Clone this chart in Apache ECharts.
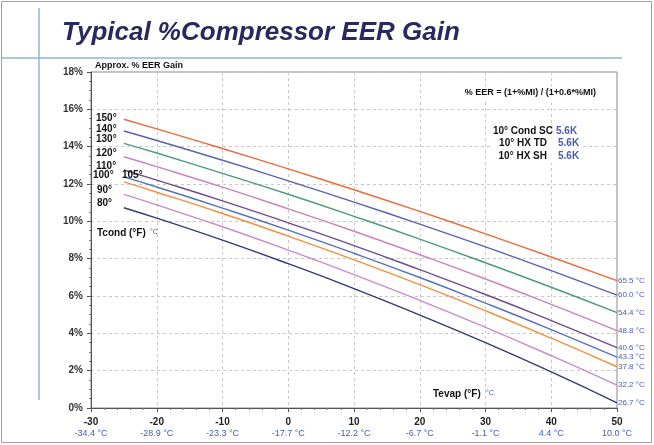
<!DOCTYPE html>
<html>
<head>
<meta charset="utf-8">
<script src="https://cdn.jsdelivr.net/npm/echarts@6/dist/echarts.min.js"></script>
<style>
  html, body { margin: 0; padding: 0; background: #fff; }
  #main { width: 654px; height: 445px; }
</style>
</head>
<body>
<div id="main"></div>
<script>
// evaporating temperature, F
var tevap = [-25, -20, -10, 0, 10, 20, 30, 40, 50];
var xTicksC = ['-34.4 °C', '-28.9 °C', '-23.3 °C', '-17.7 °C', '-12.2 °C', '-6.7 °C', '-1.1 °C', '4.4 °C', '10.0 °C'];

// % EER gain by condensing temperature
var gain150 = [15.47, 14.95, 13.90, 12.81, 11.69, 10.53, 9.33, 8.09, 6.82];
var gain140 = [14.84, 14.33, 13.27, 12.17, 11.03, 9.85, 8.63, 7.36, 6.05];
var gain130 = [14.18, 13.66, 12.57, 11.45, 10.27, 9.05, 7.78, 6.47, 5.11];
var gain120 = [13.46, 12.93, 11.83, 10.67, 9.47, 8.21, 6.91, 5.55, 4.14];
var gain110 = [12.75, 12.21, 11.10, 9.92, 8.70, 7.41, 6.08, 4.68, 3.23];
var gain105 = [12.38, 11.84, 10.71, 9.53, 8.29, 6.99, 5.62, 4.20, 2.72];
var gain100 = [12.11, 11.56, 10.42, 9.21, 7.94, 6.61, 5.21, 3.74, 2.21];
var gain90  = [11.44, 10.88, 9.71, 8.46, 7.15, 5.77, 4.32, 2.80, 1.22];
var gain80  = [10.73, 10.17, 8.99, 7.73, 6.40, 4.98, 3.50, 1.93, 0.28];

var seriesNames = ['150°', '140°', '130°', '120°', '110°', '105°', '100°', '90°', '80°'];
var seriesData = [gain150, gain140, gain130, gain120, gain110, gain105, gain100, gain90, gain80];
var endLabels = ['65.5 °C', '60.0 °C', '54.4 °C', '48.8 °C', '40.6 °C', '43.3 °C', '37.8 °C', '32.2 °C', '26.7 °C'];
var colors = ['#ee6a3c', '#5a62ac', '#4f9a7c', '#c883bc', '#6e4c8e', '#5472bf', '#f1913f', '#c68ccb', '#343a74'];

var blue = '#4a5bb4';

var chart = echarts.init(document.getElementById('main'));

var series = [];
for (var i = 0; i < seriesData.length; i++) {
    var pts = [];
    for (var j = 0; j < tevap.length; j++) {
        pts.push([tevap[j], seriesData[i][j]]);
    }
    series.push({
        name: seriesNames[i],
        type: 'line',
        data: pts,
        smooth: true,
        symbol: 'none',
        lineStyle: { color: colors[i], width: 1.4 },
        endLabel: {
            show: true,
            formatter: endLabels[i],
            color: blue,
            fontSize: 8,
            fontFamily: 'Liberation Sans',
            distance: 1
        },
        z: 3
    });
}

// left side Tcond labels
var leftLabels = [
    ['150°', 96, 118], ['140°', 96, 129], ['130°', 96, 139], ['120°', 96, 153],
    ['110°', 96, 166], ['100°', 93, 175], ['105°', 122, 175], ['90°', 97, 190], ['80°', 97, 203]
];
var txt = function (x, y, s, font, color, align) {
    return {
        type: 'text', x: x, y: y, z: 10,
        style: { text: s, fill: color || '#111', font: font, textAlign: align || 'left', textVerticalAlign: 'middle' }
    };
};
var graphics = [
    { type: 'rect', shape: { x: 1.5, y: 1.5, width: 650, height: 441 }, style: { fill: 'none', stroke: '#a0a0a0', lineWidth: 1 } },
    { type: 'line', shape: { x1: 39, y1: 8, x2: 39, y2: 400 }, style: { stroke: '#8fb6dc', lineWidth: 1.5 } },
    { type: 'line', shape: { x1: 2, y1: 58, x2: 622, y2: 58 }, style: { stroke: '#8fb6dc', lineWidth: 1.5 } },
    txt(62, 33, 'Typical %Compressor EER Gain', 'italic bold 26px Liberation Sans', '#29295f'),
    txt(95, 66, 'Approx. % EER Gain', 'bold 9px Liberation Sans'),
    { type: 'rect', shape: { x: 460, y: 86, width: 138, height: 14 }, style: { fill: '#fff' }, z: 5 },
    { type: 'rect', shape: { x: 490, y: 124, width: 92, height: 39 }, style: { fill: '#fff' }, z: 5 },
    txt(596, 93, '% EER = (1+%MI) / (1+0.6*%MI)', 'bold 9px Liberation Sans', '#111', 'right'),
    txt(553, 131, '10° Cond SC', 'bold 10px Liberation Sans', '#111', 'right'),
    txt(547, 143, '10° HX TD', 'bold 10px Liberation Sans', '#111', 'right'),
    txt(547, 156, '10° HX SH', 'bold 10px Liberation Sans', '#111', 'right'),
    txt(556, 131, '5.6K', 'bold 10px Liberation Sans', blue),
    txt(558, 143, '5.6K', 'bold 10px Liberation Sans', blue),
    txt(558, 156, '5.6K', 'bold 10px Liberation Sans', blue),
    txt(97, 233, 'Tcond (°F)', 'bold 10px Liberation Sans'),
    txt(150, 232, '°C', '7px Liberation Sans', blue),
    txt(433, 394, 'Tevap (°F)', 'bold 10px Liberation Sans'),
    txt(486, 393, '°C', '7px Liberation Sans', blue)
];
for (var k = 0; k < leftLabels.length; k++) {
    graphics.push(txt(leftLabels[k][1], leftLabels[k][2], leftLabels[k][0], 'bold 10px Liberation Sans'));
}

var option = {
    backgroundColor: '#fff',
    animation: false,
    grid: { left: 91, right: 37, top: 72, bottom: 37, show: true, borderColor: '#888', borderWidth: 1 },
    xAxis: {
        type: 'value', min: -30, max: 50, interval: 10,
        axisLine: { onZero: false, lineStyle: { color: '#555' } },
        axisTick: { length: 4, lineStyle: { color: '#555' } },
        minorTick: { show: true, splitNumber: 5, length: 2, lineStyle: { color: '#777' } },
        splitLine: { show: true, lineStyle: { color: '#c8c8c8', type: [3, 3] } },
        axisLabel: {
            margin: 8,
            formatter: function (v) {
                var idx = (v + 30) / 10;
                return '{f|' + v + '}\n{c|' + xTicksC[idx] + '}';
            },
            rich: {
                f: { fontSize: 10, fontWeight: 'bold', color: '#222', fontFamily: 'Liberation Sans', lineHeight: 12 },
                c: { fontSize: 9, color: blue, fontFamily: 'Liberation Sans', lineHeight: 12 }
            }
        }
    },
    yAxis: {
        type: 'value', min: 0, max: 18, interval: 2,
        axisLine: { show: true, onZero: false, lineStyle: { color: '#555' } },
        axisTick: { show: true, length: 4, lineStyle: { color: '#555' } },
        minorTick: { show: true, splitNumber: 4, length: 2, lineStyle: { color: '#777' } },
        splitLine: { show: true, lineStyle: { color: '#c8c8c8', type: [3, 3] } },
        axisLabel: { formatter: '{value}%', fontSize: 10, fontWeight: 'bold', color: '#333', fontFamily: 'Liberation Sans', margin: 8 }
    },
    series: series,
    graphic: graphics
};

chart.setOption(option);
</script>
</body>
</html>
